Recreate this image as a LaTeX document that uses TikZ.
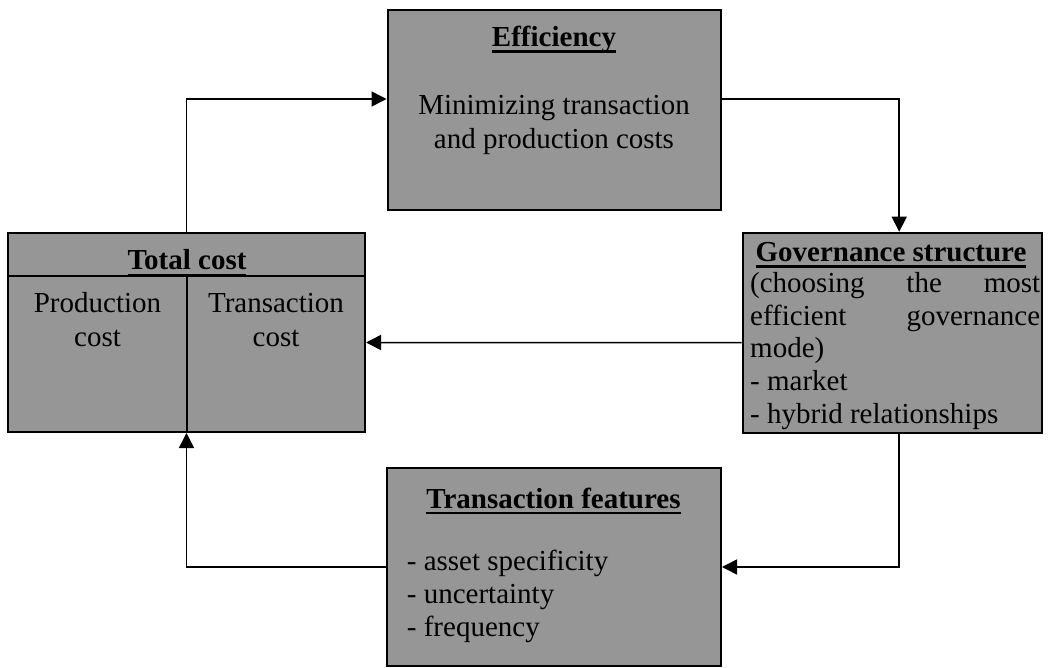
\documentclass[tikz,border=0pt]{standalone}
\usepackage{fontspec}
\setmainfont{Liberation Serif}
\usetikzlibrary{arrows.meta}
\definecolor{boxgray}{RGB}{150,150,150}
\newcommand\myul[1]{\setbox0\hbox{#1}\rlap{\rule[-6pt]{\wd0}{2.2pt}}\box0}
\tikzset{
  box/.style={draw=black, line width=2pt, fill=boxgray, inner sep=0pt},
  conn/.style={line width=1.5pt, -{Triangle[length=15pt,width=15pt]}},
  txt/.style={inner sep=0pt, anchor=base, font=\fontsize{29}{33}\selectfont},
  txtl/.style={txt, anchor=base west},
}
\begin{document}
\begin{tikzpicture}[x=1pt,y=-1pt]
\useasboundingbox (0,0) rectangle (1050,668);
% boxes
\node[box, minimum width=333pt, minimum height=200pt] (eff) at (554,110) {};
\node[box, minimum width=357pt, minimum height=199pt] (tot) at (186.5,332.5) {};
\node[box, minimum width=299pt, minimum height=200pt] (gov) at (892.2,332.7) {};
\node[box, minimum width=334pt, minimum height=198pt] (tf) at (554,567) {};
% total cost dividers
\draw[line width=2pt] ([yshift=-44pt]tot.north west) -- ([yshift=-44pt]tot.north east);
\draw[line width=2pt] ([yshift=-44pt]tot.north) -- (tot.south);
% texts: efficiency
\node[txt] (effh) at (554,46.7) {\bfseries\myul{Efficiency}};
\node[txt] (eff1) at (554,114.7) {Minimizing transaction};
\node[txt] (eff2) at (554,148.3) {and production costs};
% total cost
\node[txt] (toth) at (187,270) {\bfseries\myul{Total cost}};
\node[txt] (totp1) at (97.5,313) {Production};
\node[txt] (totp2) at (97.5,346.7) {cost};
\node[txt] (tott1) at (276,313) {Transaction};
\node[txt] (tott2) at (276,346.7) {cost};
% governance
\node[txt] (govh) at (891,261.7) {\bfseries\myul{Governance structure}};
\node[txtl] (gov1) at (750,293) {\hbox to 290pt{(choosing\hfill the\hfill most}};
\node[txtl] (gov2) at (750,325.5) {\hbox to 290pt{efficient\hfill governance}};
\node[txtl] (gov3) at (750,357.7) {mode)};
\node[txtl] (gov4) at (750,390) {- market};
\node[txtl] (gov5) at (750,423) {- hybrid relationships};
% transaction features
\node[txt] (tfh) at (553.5,508) {\bfseries\myul{Transaction features}};
\node[txtl] (tf1) at (406.7,570) {- asset specificity};
\node[txtl] (tf2) at (406.7,603.3) {- uncertainty};
\node[txtl] (tf3) at (406.7,636.7) {- frequency};
% connectors
\draw[conn] (tot.north) |- ([yshift=11pt]eff.west);
\draw[conn] ([yshift=11pt]eff.east) -| ([xshift=7pt]gov.north);
\draw[conn] ([yshift=-10pt]gov.west) -- ([yshift=-10pt]tot.east);
\draw[conn] ([xshift=7pt]gov.south) |- (tf.east);
\draw[conn] (tf.west) -| (tot.south);
\end{tikzpicture}
\end{document}
